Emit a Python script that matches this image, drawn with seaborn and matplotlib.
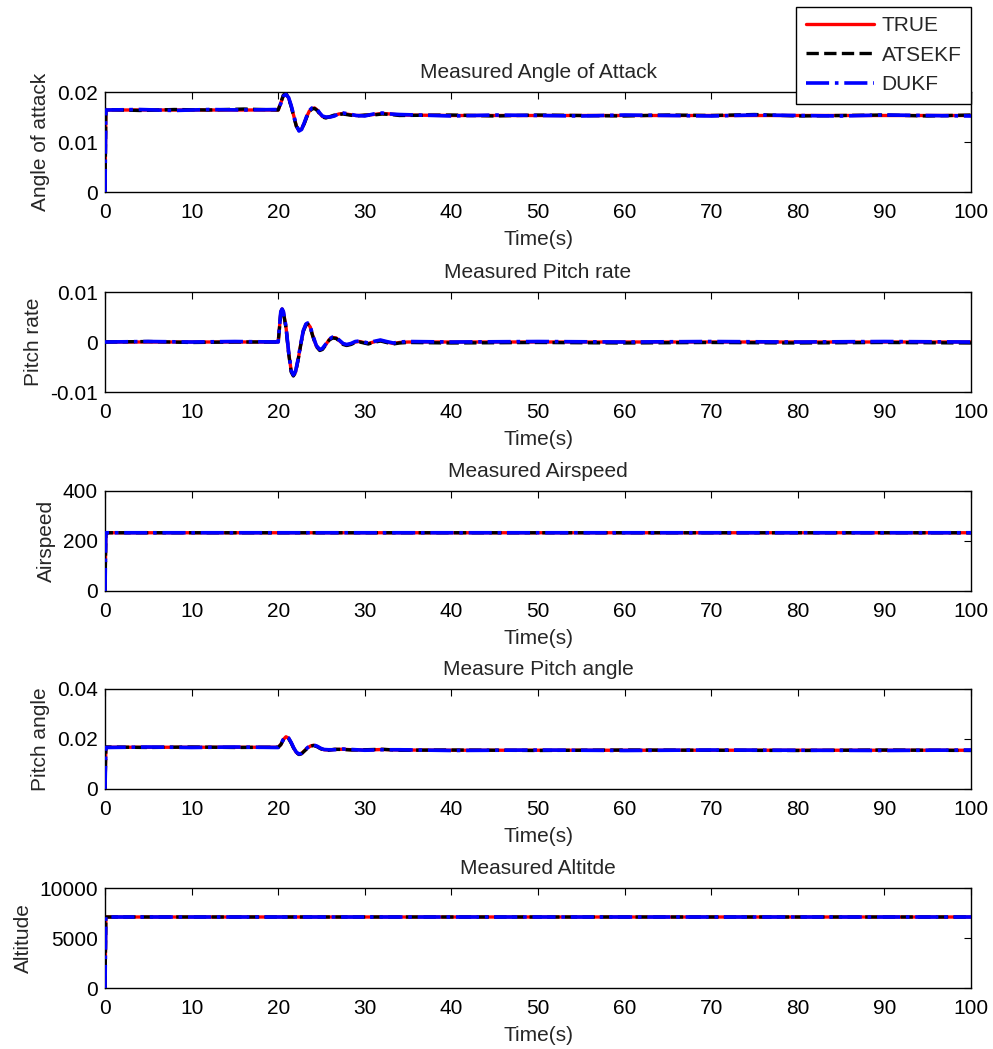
"""
Five stacked measurement panels: TRUE / ATSEKF / DUKF.
"""

import matplotlib

matplotlib.use("Agg")

import pandas as pd
import seaborn as sns
from matplotlib import pyplot as plt
from matplotlib.ticker import FormatStrFormatter

# ---------------------------------------------------------------- data
series_names = ["TRUE", "ATSEKF", "DUKF"]

aoa_time = [0, 0.1, 4, 8, 12, 16, 20.0, 20.3, 20.6, 20.9, 21.2, 21.5, 21.8,
            22.1, 22.4, 22.7, 23.0, 23.3, 23.6, 23.9, 24.2, 24.5, 24.8, 25.1,
            25.5, 26.0, 26.5, 27.0, 27.5, 28.2, 29.0, 30.0, 31.0, 32.0, 33.0,
            34.0, 40, 45, 50, 55, 60, 65, 70, 75, 80, 85, 90, 95, 100]
aoa_true = [0, 0.0164, 0.0164, 0.0164, 0.0164, 0.0164, 0.0164, 0.0178, 0.0193,
            0.0196, 0.0188, 0.0172, 0.0152, 0.0132, 0.0123, 0.0126, 0.0137,
            0.0151, 0.0162, 0.0167, 0.0168, 0.0164, 0.0157, 0.0151, 0.0149,
            0.0150, 0.0153, 0.0156, 0.0157, 0.0155, 0.0153, 0.0153, 0.0155,
            0.0157, 0.0156, 0.0154, 0.0153, 0.0153, 0.0153, 0.0153, 0.0153,
            0.0153, 0.0153, 0.0153, 0.0153, 0.0153, 0.0153, 0.0153, 0.0153]
aoa_atsekf = [0, 0.0165, 0.0163, 0.0165, 0.0164, 0.0166, 0.0164, 0.0179,
              0.0194, 0.0197, 0.0187, 0.0171, 0.0150, 0.0131, 0.0124, 0.0127,
              0.0136, 0.0150, 0.0161, 0.0166, 0.0167, 0.0163, 0.0156, 0.0150,
              0.0148, 0.0151, 0.0154, 0.0155, 0.0156, 0.0154, 0.0152, 0.0154,
              0.0154, 0.0156, 0.0155, 0.0153, 0.0154, 0.0152, 0.0154, 0.0153,
              0.0152, 0.0154, 0.0153, 0.0155, 0.0152, 0.0153, 0.0154, 0.0152,
              0.0154]
aoa_dukf = [0, 0.0164, 0.0165, 0.0163, 0.0165, 0.0164, 0.0165, 0.0177, 0.0192,
            0.0195, 0.0189, 0.0173, 0.0153, 0.0133, 0.0122, 0.0125, 0.0138,
            0.0152, 0.0163, 0.0168, 0.0168, 0.0165, 0.0158, 0.0152, 0.0150,
            0.0150, 0.0152, 0.0157, 0.0158, 0.0156, 0.0153, 0.0152, 0.0156,
            0.0158, 0.0156, 0.0155, 0.0152, 0.0154, 0.0153, 0.0152, 0.0154,
            0.0153, 0.0152, 0.0154, 0.0153, 0.0152, 0.0154, 0.0153, 0.0152]

q_time = [0, 5, 10, 15, 20.0, 20.15, 20.3, 20.45, 20.6, 20.9, 21.2, 21.5, 21.75,
          22.0, 22.3, 22.6, 22.9, 23.2, 23.4, 23.7, 24.0, 24.4, 24.8, 25.1, 25.5,
          25.9, 26.3, 26.7, 27.1, 27.5, 27.9, 28.4, 28.9, 29.4, 29.9, 30.4, 31.0,
          31.8, 32.5, 33.3, 34.0, 35, 40, 50, 60, 70, 80, 90, 100]
q_true = [0, 0, 0, 0, 0, 0.0030, 0.0060, 0.0066, 0.0060, 0.0030, -0.0020,
          -0.0058, -0.0067, -0.0060, -0.0035, -0.0005, 0.0022, 0.0035, 0.0037,
          0.0030, 0.0012, -0.0008, -0.0016, -0.0014, -0.0005, 0.0005, 0.0009,
          0.0008, 0.0002, -0.0004, -0.0006, -0.0004, 0.0000, 0.0001, -0.0001,
          -0.0003, 0.0000, 0.0003, 0.0000, -0.0003, -0.0001, 0, 0, 0, 0, 0, 0,
          0, 0]
q_atsekf = [0, 0.0001, -0.0001, 0, 0, 0.0028, 0.0058, 0.0065, 0.0059, 0.0028,
            -0.0022, -0.0060, -0.0068, -0.0061, -0.0036, -0.0006, 0.0021,
            0.0034, 0.0036, 0.0029, 0.0011, -0.0009, -0.0017, -0.0015, -0.0006,
            0.0004, 0.0008, 0.0007, 0.0001, -0.0005, -0.0007, -0.0005, -0.0001,
            0.0000, -0.0002, -0.0004, -0.0001, 0.0002, -0.0001, -0.0004,
            -0.0002, -0.0001, -0.0002, -0.0001, -0.0002, -0.0001, -0.0002,
            -0.0001, -0.0002]
q_dukf = [0, 0.0001, 0, 0.0001, 0, 0.0031, 0.0061, 0.0066, 0.0061, 0.0031,
          -0.0019, -0.0057, -0.0066, -0.0059, -0.0034, -0.0004, 0.0023, 0.0036,
          0.0038, 0.0031, 0.0013, -0.0007, -0.0015, -0.0013, -0.0004, 0.0006,
          0.0010, 0.0009, 0.0003, -0.0003, -0.0005, -0.0003, 0.0001, 0.0002,
          0.0000, -0.0002, 0.0001, 0.0004, 0.0001, -0.0002, 0.0000, 0.0001, 0,
          0.0001, 0, 0.0001, 0, 0.0001, 0]

vt_time = [0, 0.1, 10, 20, 30, 40, 50, 60, 70, 80, 90, 100]
vt_true = [0, 233, 233, 233, 233, 233, 233, 233, 233, 233, 233, 233]
vt_atsekf = [0, 233, 233, 233, 233, 233, 233, 233, 233, 233, 233, 233]
vt_dukf = [0, 233, 233, 233, 233, 233, 233, 233, 233, 233, 233, 233]

theta_time = [0, 0.1, 5, 10, 15, 20.0, 20.3, 20.6, 20.9, 21.2, 21.5, 21.8, 22.1,
              22.4, 22.7, 23.0, 23.4, 23.8, 24.1, 24.5, 24.9, 25.3, 25.8, 26.5,
              27.5, 28.5, 30, 32, 34, 40, 50, 60, 70, 80, 90, 100]
theta_true = [0, 0.0167, 0.0167, 0.0167, 0.0167, 0.0167, 0.0178, 0.0198,
              0.0209, 0.0203, 0.0185, 0.0163, 0.0146, 0.0139, 0.0142, 0.0152,
              0.0165, 0.0173, 0.0175, 0.0170, 0.0162, 0.0157, 0.0156, 0.0158,
              0.0159, 0.0157, 0.0156, 0.0158, 0.0156, 0.0155, 0.0155, 0.0155,
              0.0155, 0.0155, 0.0155, 0.0155]
theta_atsekf = [0, 0.0168, 0.0166, 0.0168, 0.0166, 0.0167, 0.0177, 0.0197,
                0.0208, 0.0202, 0.0184, 0.0162, 0.0145, 0.0138, 0.0141, 0.0151,
                0.0164, 0.0172, 0.0174, 0.0169, 0.0161, 0.0156, 0.0155, 0.0159,
                0.0158, 0.0156, 0.0157, 0.0159, 0.0155, 0.0156, 0.0154, 0.0156,
                0.0155, 0.0154, 0.0156, 0.0154]
theta_dukf = [0, 0.0166, 0.0168, 0.0166, 0.0168, 0.0166, 0.0179, 0.0199,
              0.0210, 0.0204, 0.0186, 0.0164, 0.0147, 0.0140, 0.0143, 0.0153,
              0.0166, 0.0174, 0.0176, 0.0171, 0.0163, 0.0158, 0.0157, 0.0157,
              0.0160, 0.0158, 0.0155, 0.0157, 0.0157, 0.0154, 0.0156, 0.0154,
              0.0156, 0.0155, 0.0154, 0.0156]

alt_time = [0, 0.1, 10, 20, 30, 40, 50, 60, 70, 80, 90, 100]
alt_true = [0, 7100, 7100, 7100, 7100, 7100, 7100, 7100, 7100, 7100, 7100, 7100]
alt_atsekf = [0, 7100, 7100, 7100, 7100, 7100, 7100, 7100, 7100, 7100, 7100, 7100]
alt_dukf = [0, 7100, 7100, 7100, 7100, 7100, 7100, 7100, 7100, 7100, 7100, 7100]

panel_titles = ["Measured Angle of Attack", "Measured Pitch rate",
                "Measured Airspeed", "Measure Pitch angle", "Measured Altitde"]
panel_ylabels = ["Angle of attack", "Pitch rate", "Airspeed", "Pitch angle",
                 "Altitude"]
panel_yticks = [[0, 0.01, 0.02], [-0.01, 0, 0.01], [0, 200, 400],
                [0, 0.02, 0.04], [0, 5000, 10000]]
x_ticks = list(range(0, 101, 10))

panels = [
    (aoa_time, [aoa_true, aoa_atsekf, aoa_dukf]),
    (q_time, [q_true, q_atsekf, q_dukf]),
    (vt_time, [vt_true, vt_atsekf, vt_dukf]),
    (theta_time, [theta_true, theta_atsekf, theta_dukf]),
    (alt_time, [alt_true, alt_atsekf, alt_dukf]),
]

# ---------------------------------------------------------------- style
sns.set_style("white")
plt.rcParams["font.family"] = ["Liberation Sans", "DejaVu Sans"]
plt.rcParams["axes.unicode_minus"] = False

line_styles = {
    "TRUE": dict(color="red", linestyle="-", linewidth=2.4, zorder=2),
    "ATSEKF": dict(color="black", linestyle="--", linewidth=2.4, zorder=3),
    "DUKF": dict(color="blue", linestyle="-.", linewidth=2.6, zorder=4),
}

W, H = 993, 1049
FS = 15
fig = plt.figure(figsize=(W / 100, H / 100), dpi=100)

# axes boxes in pixels
ax_left, ax_right = 105, 971
ax_tops = [92, 292, 491, 689, 888]
ax_height = 100

axes = []
for i, (t, vals) in enumerate(panels):
    top = ax_tops[i]
    ax = fig.add_axes([ax_left / W, 1 - (top + ax_height) / H,
                       (ax_right - ax_left) / W, ax_height / H])
    df = pd.DataFrame({"time": t})
    for name, v in zip(series_names, vals):
        df[name] = v
    for name in series_names:
        sns.lineplot(data=df, x="time", y=name, ax=ax, sort=False,
                     estimator=None, label=name, legend=False,
                     **line_styles[name])

    ax.set_xlim(0, 100)
    ax.set_xticks(x_ticks)
    yt = panel_yticks[i]
    ax.set_ylim(yt[0], yt[-1])
    ax.set_yticks(yt)
    ax.yaxis.set_major_formatter(FormatStrFormatter("%g"))
    ax.tick_params(direction="in", top=True, right=True, length=5, width=0.8,
                   labelsize=FS, colors="black")
    ax.tick_params(axis="x", pad=8)
    ax.tick_params(axis="y", pad=5)
    for sp in ax.spines.values():
        sp.set_visible(True)
        sp.set_color("black")
        sp.set_linewidth(1.0)
    ax.set_title(panel_titles[i], fontsize=FS, pad=10)
    ax.set_xlabel("Time(s)", fontsize=FS, labelpad=6)
    ax.set_ylabel(panel_ylabels[i], fontsize=FS, labelpad=5)
    axes.append(ax)

handles = axes[0].get_lines()[:3]
leg = fig.legend(handles, series_names, loc="upper right",
                 bbox_to_anchor=(ax_right / W, 1 - 7 / H), fontsize=FS,
                 frameon=True, fancybox=False, framealpha=1,
                 handlelength=3.3, borderpad=0.45, labelspacing=0.5,
                 handletextpad=0.35, borderaxespad=0)
leg.set_zorder(10)
leg.get_frame().set_edgecolor("black")
leg.get_frame().set_facecolor("white")
leg.get_frame().set_linewidth(1.0)

fig.savefig("out.png", dpi=100, facecolor="white")
